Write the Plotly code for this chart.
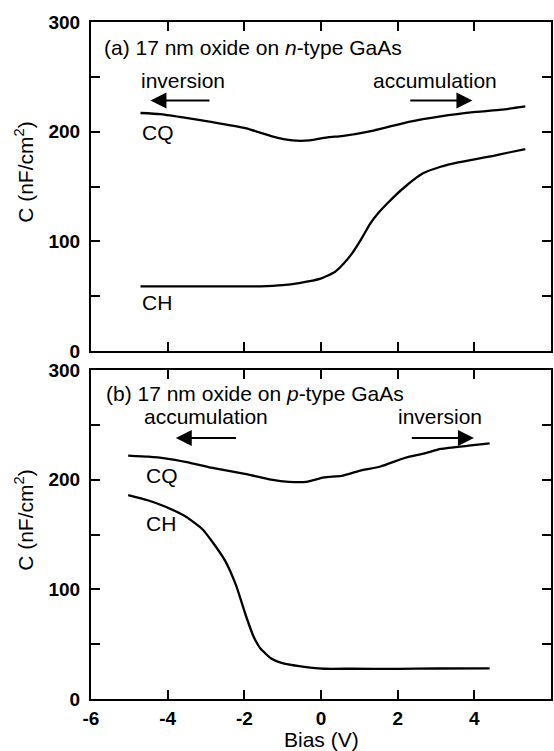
import plotly.graph_objects as go
from plotly.subplots import make_subplots

# ---- data: (a) n-type GaAs ----
a_cq_x = [-4.71, -4.2, -3.6, -2.87, -1.95, -1.3, -0.75, -0.3, 0.2, 0.54, 1.37, 2.29, 3.12, 4.04, 4.7, 5.33]
a_cq_y = [217, 216, 213, 209, 203, 196, 192, 192, 195, 196, 201, 209, 214, 218, 220, 223]

a_ch_x = [-4.71, -3.5, -2.5, -1.58, -1.0, -0.57, -0.01, 0.36, 0.6, 0.81, 1.05, 1.28, 1.5, 1.74, 2.2, 2.66, 3.12, 3.58, 4.04, 4.5, 4.9, 5.33]
a_ch_y = [59, 59, 59, 59, 60, 62, 66, 72, 80, 89, 102, 116, 126, 135, 150, 162, 168, 172, 175, 178, 181, 184]

# ---- data: (b) p-type GaAs ----
b_cq_x = [-5.03, -4.5, -4.07, -3.5, -2.87, -1.95, -1.3, -0.84, -0.38, 0.08, 0.54, 1.0, 1.55, 2.2, 2.7, 3.12, 3.85, 4.4]
b_cq_y = [222, 221, 219.5, 216, 211, 205, 200, 198, 198, 202, 203.5, 208, 212, 220, 224, 228, 231, 233]

b_ch_x = [-5.03, -4.5, -4.07, -3.51, -3.1, -2.87, -2.5, -2.22, -1.95, -1.76, -1.58, -1.3, -1.03, -0.57, 0.08, 0.81, 2.0, 3.0, 4.4]
b_ch_y = [186, 181, 175.5, 166, 155, 145, 126, 104, 75, 57, 46, 37, 33, 30, 27.6, 27.6, 27.5, 27.8, 28]

x_tick_vals = [-6, -4, -2, 0, 2, 4, 6]
x_tick_text = ["-6", "-4", "-2", "0", "2", "4", "6"]
y_tick_vals = [0, 50, 100, 150, 200, 250, 300]
y_tick_text = ["0", "", "100", "", "200", "", "300"]

FONT = "Liberation Sans, Arial, Helvetica, sans-serif"
FS = 21

fig = make_subplots(rows=2, cols=1, vertical_spacing=19 / 677)

line = dict(color="black", width=2.3, shape="spline", smoothing=0.5)
fig.add_trace(go.Scatter(x=a_cq_x, y=a_cq_y, mode="lines", line=line, showlegend=False), row=1, col=1)
fig.add_trace(go.Scatter(x=a_ch_x, y=a_ch_y, mode="lines", line=line, showlegend=False), row=1, col=1)
fig.add_trace(go.Scatter(x=b_cq_x, y=b_cq_y, mode="lines", line=line, showlegend=False), row=2, col=1)
fig.add_trace(go.Scatter(x=b_ch_x, y=b_ch_y, mode="lines", line=line, showlegend=False), row=2, col=1)

ax_common = dict(showline=True, linecolor="black", linewidth=2, mirror="ticks",
                 ticks="inside", ticklen=9, tickwidth=2, tickcolor="black",
                 showgrid=False, zeroline=False, automargin=False,
                 tickfont=dict(family=FONT, size=19, color="black", weight="bold"))

for r in (1, 2):
    fig.update_xaxes(range=[-6, 6], tickvals=x_tick_vals, ticktext=x_tick_text,
                     showticklabels=(r == 2), ticklabelstandoff=1, **ax_common, row=r, col=1)
    fig.update_yaxes(range=[0, 300], tickvals=y_tick_vals, ticktext=y_tick_text,
                     ticklabelstandoff=5, **ax_common, row=r, col=1)

anns = []
def txt(text, x, y, xref, yref, xanchor="left", yanchor="middle"):
    anns.append(dict(text=text, x=x, y=y, xref=xref, yref=yref, showarrow=False,
                     xanchor=xanchor, yanchor=yanchor,
                     font=dict(family=FONT, size=FS, color="black")))

def arrow(x_head, x_tail, y, xref, yref):
    anns.append(dict(text="", x=x_head, y=y, ax=x_tail, ay=y, xref=xref, yref=yref,
                     axref=xref, ayref=yref, showarrow=True, arrowhead=2,
                     arrowsize=1.6, arrowwidth=2, arrowcolor="black", standoff=0, startstandoff=0))

# panel (a)
txt("(a) 17 nm oxide on <i>n</i>-type GaAs", -5.72, 277, "x", "y")
txt("inversion", -3.6, 247, "x", "y", xanchor="center")
arrow(-4.45, -2.87, 228.5, "x", "y")
txt("accumulation", 2.98, 247, "x", "y", xanchor="center")
arrow(3.95, 2.29, 228.5, "x", "y")
txt("CQ", -4.71, 199, "x", "y")
txt("CH", -4.71, 44, "x", "y")

# panel (b)
txt("(b) 17 nm oxide on <i>p</i>-type GaAs", -5.67, 279, "x2", "y2")
txt("accumulation", -3.0, 257.5, "x2", "y2", xanchor="center")
arrow(-3.79, -2.18, 238, "x2", "y2")
txt("inversion", 3.1, 257.5, "x2", "y2", xanchor="center")
arrow(3.99, 2.33, 238, "x2", "y2")
txt("CQ", -4.62, 204, "x2", "y2")
txt("CH", -4.62, 160, "x2", "y2")

# axis titles
for yd in ("y domain", "y2 domain"):
    anns.append(dict(text="C (nF/cm<sup>2</sup>)", x=-0.146, y=0.544, xref="paper", yref=yd,
                     showarrow=False, textangle=-90, xanchor="center", yanchor="middle",
                     font=dict(family=FONT, size=FS, color="black")))
anns.append(dict(text="Bias (V)", x=0.5, y=-0.06, xref="paper", yref="paper",
                 showarrow=False, xanchor="center", yanchor="middle",
                 font=dict(family=FONT, size=FS, color="black")))

fig.update_layout(width=554, height=751, margin=dict(l=91, r=3, t=22, b=52, autoexpand=False),
                  plot_bgcolor="white", paper_bgcolor="white",
                  annotations=anns, font=dict(family=FONT, color="black"))

fig.write_html("out.html", config={"displayModeBar": False},
               post_script="document.body.style.margin='0';document.body.style.overflow='hidden';")
